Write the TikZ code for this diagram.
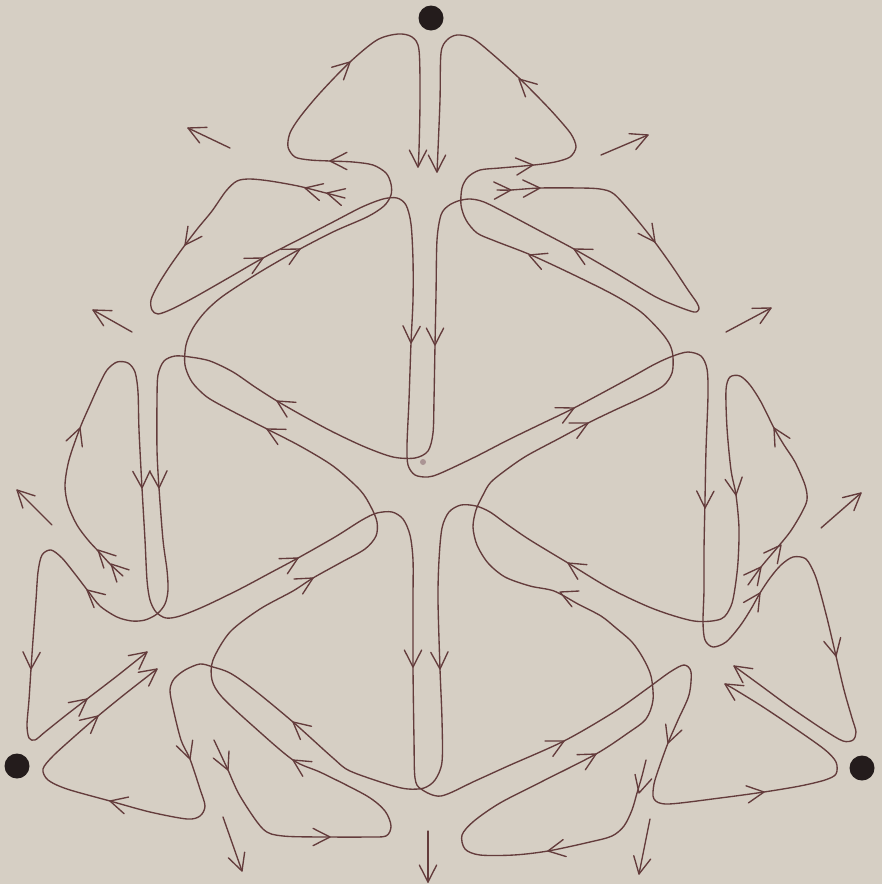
\documentclass[tikz,border=0pt]{standalone}
\usepackage{tikz}
\definecolor{paper}{RGB}{214,207,196}
\definecolor{ink}{RGB}{100,60,60}
\definecolor{pole}{RGB}{36,28,28}

\newcommand{\flowhead}[3]{\draw[flow] (#1,#2) -- ++(#3+153:19) (#1,#2) -- ++(#3-153:19);}

\begin{document}
\begin{tikzpicture}[x=1pt,y=-1pt,
  flow/.style={ink,line width=1.35pt,line cap=round,line join=round}]
  \fill[paper] (0,0) rectangle (882,884);
  \useasboundingbox (0,0) rectangle (882,884);

  \coordinate (Ptop) at (431,18);
  \coordinate (Pleft) at (17,766);
  \coordinate (Pright) at (862,768);
  \fill[pole] (Ptop) circle (12.5pt);
  \fill[pole] (Pleft) circle (12.5pt);
  \fill[pole] (Pright) circle (12.5pt);
  \fill[ink!55] (423,462) circle (3pt);

  % top left outer loop -> bottom right pole
  \draw[flow] plot[smooth,tension=0.5] coordinates {(345,198) (322,192) (298,186) (270,181) (250,179) (237,181) (226,191) (212,211) (198,228) (185,245) (170,266) (158,285) (151,300) (152,310) (158,314) (172,309) (195,297) (230,277) (263,258) (300,239) (333,222) (362,207) (383,199) (397,198) (406,205) (411,224) (413,260) (413,300) (411,343) (409,400) (407,445) (408,465) (415,475) (428,477) (441,473) (475,457) (508,440) (541,424) (574,408) (628,379) (655,364) (673,356) (688,352) (701,356) (707,369) (708,395) (706,450) (705,500) (704,550) (704,590) (703,622) (705,640) (713,647) (726,642) (740,626) (751,609) (760,593) (770,578) (781,565) (793,557) (806,559) (815,575) (821,595) (828,622) (836,656) (844,690) (852,718) (856,732) (853,740) (843,741) (824,730) (790,707) (760,685) (734,666)};
  % top right outer loop -> bottom left pole
  \draw[flow] plot[smooth,tension=0.5] coordinates {(497,190) (511,190) (540,188) (580,188) (600,189) (614,194) (634,216) (654,241) (672,266) (688,290) (697,303) (699,309) (694,312) (674,305) (654,296) (614,272) (574,249) (540,231) (508,214) (484,202) (470,199) (458,201) (448,206) (441,215) (437,240) (436,295) (435,345) (434,400) (433,433) (428,451) (415,458) (393,457) (365,447) (333,432) (305,417) (277,401) (255,387) (233,372) (210,361) (190,357) (175,356) (164,361) (158,375) (157,400) (157,450) (159,488) (163,540) (167,570) (168,590) (165,604) (157,614) (145,620) (132,621) (117,617) (100,606) (88,591) (75,574) (62,558) (51,550) (42,555) (38,572) (36,600) (33,640) (31,669) (29,700) (27,725) (29,738) (35,740) (45,732) (65,716) (87,699) (117,676) (147,652)};
  % left side loop -> bottom right pole
  \draw[flow] plot[smooth,tension=0.5] coordinates {(123,576) (111,565) (100,553) (88,540) (77,525) (68,505) (65,485) (69,460) (80,428) (90,405) (99,385) (107,370) (117,362) (128,363) (135,372) (138,392) (139,430) (142,488) (145,540) (147,580) (150,600) (156,612) (166,618) (180,616) (205,606) (240,589) (270,573) (298,558) (335,537) (362,520) (377,513) (392,512) (403,519) (410,535) (413,560) (413,600) (413,667) (414,740) (415,778) (421,789) (441,796) (475,781) (508,766) (564,741) (614,712) (648,688) (670,672) (684,665) (691,672) (689,695) (678,720) (668,743) (660,765) (654,784) (654,799) (668,804) (720,798) (764,792) (800,786) (825,780) (836,774) (836,762) (824,749) (790,725) (760,705) (734,689) (725,684)};
  % right side loop -> bottom left pole
  \draw[flow] plot[smooth,tension=0.5] coordinates {(748,585) (761,567) (777,548) (790,532) (801,514) (807,500) (805,485) (795,462) (784,445) (774,428) (761,402) (750,385) (740,376) (730,377) (726,390) (727,428) (731,470) (736,495) (739,528) (738,562) (735,588) (731,606) (721,619) (694,621) (654,609) (611,589) (568,563) (530,540) (508,525) (490,512) (476,506) (461,505) (449,512) (442,528) (439,560) (438,600) (440,669) (442,720) (442,762) (435,780) (424,788) (408,789) (390,785) (350,771) (333,758) (293,722) (253,689) (230,673) (213,667) (200,664) (185,670) (174,679) (170,690) (173,708) (181,740) (190,759) (200,789) (205,806) (200,816) (187,819) (150,812) (110,801) (67,789) (48,780) (43,769) (53,756) (75,736) (98,716) (125,694) (157,669)};
  % bottom left loop -> top pole
  \draw[flow] plot[smooth,tension=0.5] coordinates {(214,740) (221,755) (228,770) (240,796) (263,829) (283,836) (330,837) (367,837) (386,836) (391,826) (385,811) (367,796) (322,773) (293,760) (253,726) (222,697) (212,680) (213,660) (230,632) (260,609) (293,591) (313,578) (340,563) (365,549) (376,536) (377,522) (371,507) (360,490) (333,466) (300,446) (267,429) (230,410) (207,397) (192,382) (185,365) (186,345) (193,328) (205,312) (223,296) (260,272) (300,249) (335,231) (367,217) (384,206) (391,195) (391,184) (386,173) (373,165) (353,162) (330,161) (310,160) (295,157) (288,147) (290,133) (300,117) (320,93) (350,62) (377,40) (398,34) (412,37) (419,50) (420,100) (419,150) (418,167)};
  % bottom right loop -> top pole
  \draw[flow] plot[smooth,tension=0.5] coordinates {(646,760) (642,776) (637,793) (632,810) (624,826) (612,836) (590,842) (548,851) (514,855) (480,855) (465,849) (462,835) (474,821) (500,803) (541,782) (596,754) (628,733) (646,719) (653,700) (651,676) (643,658) (632,642) (616,628) (601,616) (578,604) (554,591) (530,586) (505,577) (488,563) (477,545) (473,527) (476,510) (483,495) (491,482) (510,467) (528,455) (560,438) (588,423) (615,410) (641,398) (663,386) (672,373) (673,357) (670,345) (661,332) (641,312) (614,295) (574,275) (531,255) (495,241) (477,233) (466,220) (461,205) (462,188) (468,177) (480,170) (500,168) (534,165) (555,162) (570,157) (576,147) (571,134) (556,116) (541,100) (518,77) (490,52) (472,38) (457,35) (447,40) (441,53) (440,100) (438,150) (437,172)};

  % heads along the curves
  \foreach \hx/\hy/\ha in {
    305/188/194, 327/193/194, 185/245/126, 263/258/-28, 411/343/92, 574/408/-26, 705/508/91, 760/593/-57, 836/656/77, 734/666/215,
    511/190/-2, 540/188/-2, 655/242/54, 574/249/208, 435/345/90, 277/401/211, 159/488/88, 87/590/221, 31/669/92, 87/699/-38, 147/652/-38,
    98/550/225, 111/564/225, 80/428/-70, 142/488/88, 298/558/-29, 413/667/90, 564/741/-27, 668/743/110, 764/792/-8, 725/684/212,
    781/545/-52, 761/567/-52, 774/428/240, 736/495/82, 568/563/212, 440/669/88, 293/722/220, 190/759/71, 110/801/195, 98/716/-40, 157/669/-37,
    228/770/66, 330/837/0, 293/760/212, 313/578/-30, 267/429/208, 300/249/-28, 330/161/180, 350/62/-43, 418/167/90,
    639/793/105, 548/851/170, 596/754/-29, 560/592/204, 588/423/-27, 529/255/202, 533/165/-5, 519/79/223, 437/172/90}
    {\flowhead{\hx}{\hy}{\ha}}

  % free arrows round the outside
  \foreach \ax/\ay/\bx/\by/\ba in {
    230/148/188/128/205, 601/155/648/135/-23, 132/332/93/310/209, 726/332/771/308/-28, 52/525/17/490/225,
    821/528/861/493/-41, 223/817/242/871/71, 428/831/428/882/90, 650/819/639/874/101}
    {\draw[flow] (\ax,\ay) -- (\bx,\by); \flowhead{\bx}{\by}{\ba}}
\end{tikzpicture}
\end{document}
